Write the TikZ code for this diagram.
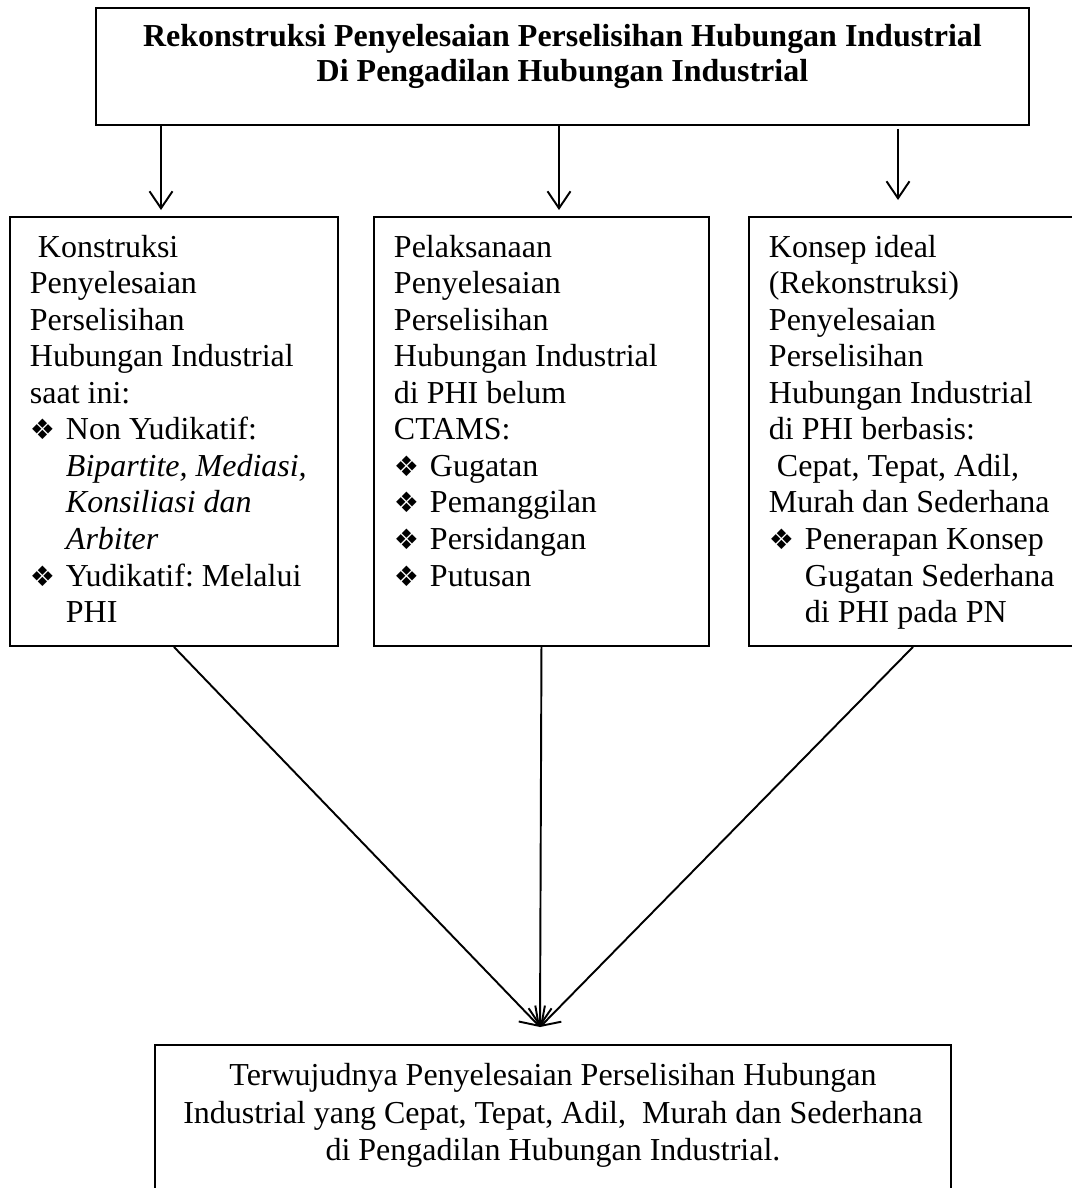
\documentclass[tikz,border=0pt]{standalone}
\usepackage{fontspec}
\setmainfont{Liberation Serif}
\newfontfamily\symfont{DejaVu Sans}
\usepackage{tikz}
\usetikzlibrary{arrows.meta}
\frenchspacing

\newcommand{\bul}{{\symfont\fontsize{16pt}{16pt}\selectfont ❖}}
\newcommand{\itm}{\par\noindent\hangindent=0.72cm\hangafter=1\makebox[0.72cm][l]{\bul}}
\newcommand{\boxtext}[3]{\parbox[t][#2][t]{#1}{\strut #3}}

\begin{document}
\begin{tikzpicture}[
    block/.style={draw, line width=1.1pt, anchor=north west, inner xsep=0.4cm, inner ysep=0.29cm, font=\fontsize{18.2}{20.8}\selectfont},
    arrow/.style={line width=1.1pt,->,>={Straight Barb[length=0.34cm,width=0.46cm]}}
  ]
    \useasboundingbox (0,0) rectangle (21.42,-23.76);

    % Nodes
    \node (judul) [block, font=\fontsize{18.2}{19.9}\selectfont\bfseries] at (1.90,-0.14) {\boxtext{17.86cm}{1.76cm}{\centering Rekonstruksi Penyelesaian Perselisihan Hubungan Industrial\\Di Pengadilan Hubungan Industrial}};

    \node (kons) [block] at (0.18,-4.32) {\boxtext{5.76cm}{8.00cm}{\hspace*{.25em}Konstruksi\\Penyelesaian\\Perselisihan\\Hubungan Industrial\\saat ini:
      \itm Non Yudikatif:\\\textit{Bipartite, Mediasi,}\\\textit{Konsiliasi dan}\\\textit{Arbiter}
      \itm Yudikatif: Melalui\\PHI}};

    \node (pelak) [block] at (7.46,-4.32) {\boxtext{5.90cm}{8.00cm}{Pelaksanaan\\Penyelesaian\\Perselisihan\\Hubungan Industrial\\di PHI belum\\CTAMS:
      \itm Gugatan
      \itm Pemanggilan
      \itm Persidangan
      \itm Putusan}};

    \node (konsep) [block] at (14.96,-4.32) {\boxtext{5.76cm}{8.00cm}{Konsep ideal\\(Rekonstruksi)\\Penyelesaian\\Perselisihan\\Hubungan Industrial\\di PHI berbasis:\\\hspace*{.25em}Cepat, Tepat, Adil,\\Murah dan Sederhana
      \itm Penerapan Konsep\\Gugatan Sederhana\\di PHI pada PN}};

    \node (hasil) [block, font=\fontsize{18.2}{21.3}\selectfont] at (3.08,-20.88) {\boxtext{15.12cm}{3.20cm}{\centering Terwujudnya Penyelesaian Perselisihan Hubungan\\Industrial yang Cepat, Tepat, Adil,\ \ Murah dan Sederhana\\di Pengadilan Hubungan Industrial.}};

    \coordinate (temu) at (10.80,-20.54);

    % Connections
    \draw [arrow, shorten >=0.12cm] (3.22,0 |- judul.south) -- (3.22,0 |- kons.north);
    \draw [arrow, shorten >=0.12cm] (11.18,0 |- judul.south) -- (11.18,0 |- pelak.north);
    \draw [arrow, shorten <=0.06cm, shorten >=0.32cm] (17.96,0 |- judul.south) -- (17.96,0 |- konsep.north);
    \draw [arrow] (kons.south) -- (temu);
    \draw [arrow] (pelak.south) -- (temu);
    \draw [arrow] (konsep.south) -- (temu);

\end{tikzpicture}
\end{document}
